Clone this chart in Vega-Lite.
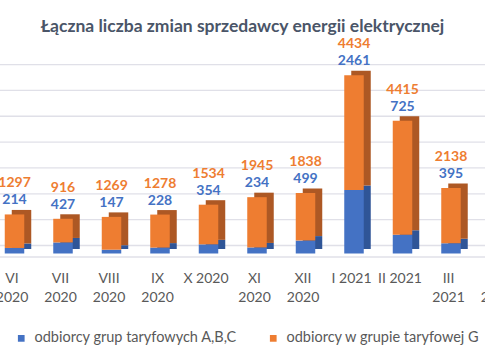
{
  "$schema": "https://vega.github.io/schema/vega-lite/v6.json",
  "width": 485,
  "height": 213.5,
  "autosize": {"type": "none"},
  "padding": {"left": 0, "top": 40, "right": 0, "bottom": 106.5},
  "background": "white",
  "config": {
    "view": {"stroke": null},
    "font": "Lato",
    "axisX": {"domain": false, "ticks": false, "grid": false, "labelAngle": 0, "labelFont": "Lato", "labelFontSize": 14, "labelColor": "#595959", "labelPadding": 25, "labelLineHeight": 18.5, "labelBaseline": "middle"}
  },
  "title": {"text": "Łączna liczba zmian sprzedawcy energii elektrycznej", "fontSize": 17.5, "fontWeight": "bold", "color": "#4a5568", "font": "Lato", "anchor": "middle", "offset": 2},
  "datasets": {
    "months": [
      {"month": "VI 2020", "abc": 214, "g": 1297},
      {"month": "VII 2020", "abc": 427, "g": 916},
      {"month": "VIII 2020", "abc": 147, "g": 1269},
      {"month": "IX 2020", "abc": 228, "g": 1278},
      {"month": "X 2020", "abc": 354, "g": 1534},
      {"month": "XI 2020", "abc": 234, "g": 1945},
      {"month": "XII 2020", "abc": 499, "g": 1838},
      {"month": "I 2021", "abc": 2461, "g": 4434},
      {"month": "II 2021", "abc": 725, "g": 4415},
      {"month": "III 2021", "abc": 395, "g": 2138}
    ],
    "grid": [{"v": 0}, {"v": 1000}, {"v": 2000}, {"v": 3000}, {"v": 4000}, {"v": 5000}, {"v": 6000}, {"v": 7000}],
    "floor": [{"v": 0}]
  },
  "layer": [
    {
      "data": {"name": "grid"},
      "mark": {"type": "rule", "color": "#e0e0e8", "strokeWidth": 1.3, "yOffset": -8},
      "encoding": {"y": {"field": "v", "type": "quantitative", "scale": {"domain": [0, 8259], "nice": false}, "axis": null}}
    },
    {
      "data": {"name": "floor"},
      "mark": {"type": "rule", "color": "#e0e0e8", "strokeWidth": 1.3, "yOffset": 3.5},
      "encoding": {"y": {"field": "v", "type": "quantitative", "axis": null}}
    },
    {
      "data": {"name": "months"},
      "transform": [{"fold": ["abc", "g"], "as": ["key", "value"]}],
      "mark": {"type": "bar", "size": 19.5, "xOffset": 9.5, "yOffset": -4.5},
      "encoding": {
        "x": {"field": "month", "type": "nominal", "sort": null, "scale": {"domain": ["VI 2020", "VII 2020", "VIII 2020", "IX 2020", "X 2020", "XI 2020", "XII 2020", "I 2021", "II 2021", "III 2021", "IV 2021"], "range": [-12.25, 521.25], "paddingInner": 0, "paddingOuter": 0}, "axis": {"title": null, "labelExpr": "(datum.value == 'X 2020' || datum.value == 'I 2021' || datum.value == 'II 2021') ? datum.value : split(datum.value, ' ')"}},
        "y": {"field": "value", "type": "quantitative", "stack": "zero", "axis": null},
        "order": {"field": "key"},
        "color": {"condition": {"test": "datum.key == 'abc'", "value": "#2f5597"}, "value": "#ad5824"}
      }
    },
    {
      "data": {"name": "months"},
      "transform": [{"fold": ["abc", "g"], "as": ["key", "value"]}],
      "mark": {"type": "bar", "size": 19.5, "xOffset": 2.5},
      "encoding": {
        "x": {"field": "month", "type": "nominal", "sort": null, "axis": {"title": null, "labelExpr": "(datum.value == 'X 2020' || datum.value == 'I 2021' || datum.value == 'II 2021') ? datum.value : split(datum.value, ' ')"}},
        "y": {"field": "value", "type": "quantitative", "stack": "zero", "axis": null},
        "order": {"field": "key"},
        "color": {"field": "key", "type": "nominal", "scale": {"domain": ["abc", "g"], "range": ["#4472c4", "#ee7d31"]},
          "legend": {"orient": "none", "legendX": 14, "legendY": 291, "direction": "horizontal", "title": null, "symbolType": "square", "symbolSize": 45, "symbolStrokeWidth": 0, "labelFont": "Lato", "labelFontSize": 14.5, "labelColor": "#595959", "labelLimit": 0, "columnPadding": 28, "labelOffset": 6,
            "labelExpr": "datum.value == 'abc' ? 'odbiorcy grup taryfowych A,B,C' : 'odbiorcy w grupie taryfowej G'"}}
      }
    },
    {
      "data": {"name": "months"},
      "transform": [
        {"fold": ["abc", "g"], "as": ["key", "value"]},
        {"joinaggregate": [{"op": "sum", "field": "value", "as": "total"}], "groupby": ["month"]},
        {"filter": "datum.key == 'abc'"}
      ],
      "mark": {"type": "text", "dy": -14, "xOffset": 2.5, "font": "Lato", "fontSize": 14, "fontWeight": "bold", "color": "#4472c4", "baseline": "middle"},
      "encoding": {
        "x": {"field": "month", "type": "nominal", "sort": null},
        "y": {"field": "total", "type": "quantitative", "axis": null},
        "text": {"field": "value", "type": "quantitative", "format": "d"}
      }
    },
    {
      "data": {"name": "months"},
      "transform": [
        {"fold": ["abc", "g"], "as": ["key", "value"]},
        {"joinaggregate": [{"op": "sum", "field": "value", "as": "total"}], "groupby": ["month"]},
        {"filter": "datum.key == 'g'"}
      ],
      "mark": {"type": "text", "dy": -31, "xOffset": 2.5, "font": "Lato", "fontSize": 14, "fontWeight": "bold", "color": "#ee7d31", "baseline": "middle"},
      "encoding": {
        "x": {"field": "month", "type": "nominal", "sort": null},
        "y": {"field": "total", "type": "quantitative", "axis": null},
        "text": {"field": "value", "type": "quantitative", "format": "d"}
      }
    }
  ]
}
